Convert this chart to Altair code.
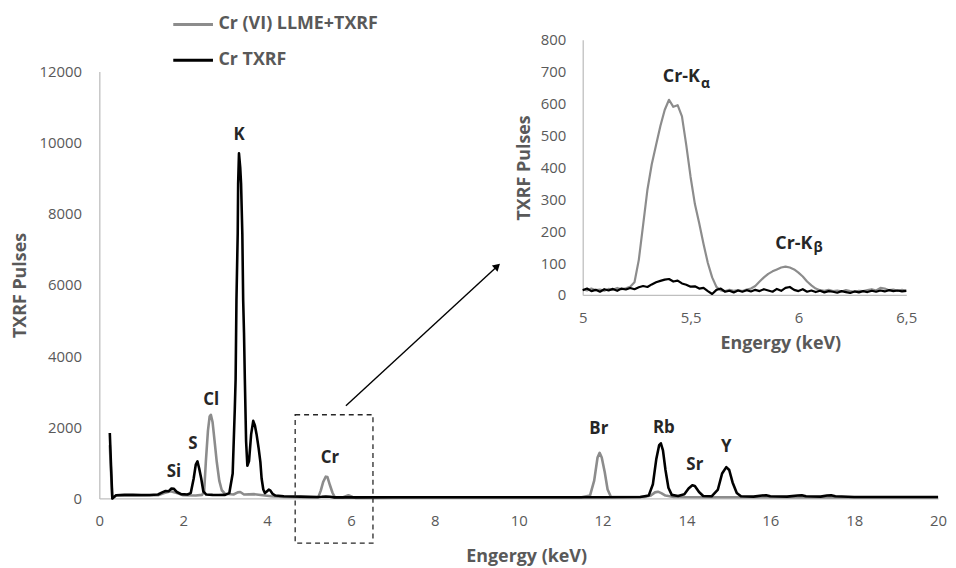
import altair as alt
import pandas as pd

FONT = "Open Sans"
AXIS_GRAY = "#595959"
LINE_GRAY = "#8c8c8c"
DOMAIN_GRAY = "#bfbfbf"
LABEL_COLOR = "#262626"
GRAY_NAME = "Cr (VI) LLME+TXRF"
BLACK_NAME = "Cr TXRF"

# ---------------- data ----------------
main_x_ticks = [0, 2, 4, 6, 8, 10, 12, 14, 16, 18, 20]
main_y_ticks = [0, 2000, 4000, 6000, 8000, 10000, 12000]
inset_x_ticks = [5, 5.5, 6, 6.5]
inset_y_ticks = [0, 100, 200, 300, 400, 500, 600, 700, 800]

black_main = [
    (0.25, 1840), (0.28, 900), (0.31, 0), (0.35, 40), (0.40, 90), (0.60, 100), (0.80, 100),
    (1.00, 95), (1.20, 95), (1.40, 110), (1.50, 170), (1.58, 210), (1.65, 200), (1.72, 280),
    (1.78, 270), (1.85, 180), (1.95, 120), (2.10, 110), (2.18, 150), (2.25, 560), (2.30, 950),
    (2.34, 1040), (2.38, 850), (2.43, 560), (2.48, 200), (2.55, 110), (2.70, 100), (2.85, 95),
    (3.00, 100), (3.10, 150), (3.18, 700), (3.23, 2500), (3.25, 3350), (3.27, 5580), (3.30, 7450),
    (3.31, 8850), (3.33, 9700), (3.36, 9300), (3.38, 8850), (3.41, 7450), (3.43, 5580), (3.45, 4660),
    (3.47, 3350), (3.50, 1600), (3.53, 920), (3.57, 1050), (3.62, 1800), (3.67, 2180), (3.71, 2050),
    (3.75, 1800), (3.80, 1400), (3.84, 1030), (3.87, 560), (3.91, 250), (3.95, 150), (4.00, 200),
    (4.04, 250), (4.08, 220), (4.13, 130), (4.20, 80), (4.40, 60), (4.80, 50), (5.20, 40),
    (5.30, 45), (5.40, 55), (5.50, 45), (5.60, 30), (6.00, 30), (7.00, 35), (8.00, 35), (9.00, 35),
    (10.00, 35), (11.00, 35), (12.00, 35), (12.90, 40), (13.10, 80), (13.20, 400), (13.28, 1100),
    (13.35, 1500), (13.39, 1550), (13.44, 1350), (13.50, 800), (13.57, 300), (13.65, 100),
    (13.80, 70), (13.95, 120), (14.05, 280), (14.14, 370), (14.20, 350), (14.30, 180), (14.40, 70),
    (14.60, 60), (14.75, 250), (14.85, 700), (14.95, 880), (15.02, 800), (15.10, 450), (15.20, 150),
    (15.30, 60), (15.60, 50), (15.80, 80), (15.90, 90), (16.00, 60), (16.40, 50), (16.65, 80),
    (16.75, 90), (16.85, 60), (17.20, 50), (17.35, 80), (17.45, 90), (17.55, 60), (18.00, 40),
    (19.00, 40), (20.00, 40),
]

gray_main = [
    (0.25, 1500), (0.28, 700), (0.31, 0), (0.35, 40), (0.40, 80), (1.00, 80), (1.40, 90),
    (1.55, 150), (1.70, 200), (1.85, 150), (2.00, 90), (2.30, 80), (2.45, 100), (2.50, 200),
    (2.54, 1030), (2.59, 1900), (2.63, 2300), (2.66, 2350), (2.70, 2150), (2.75, 1600), (2.80, 1030),
    (2.86, 500), (2.92, 230), (3.00, 130), (3.20, 110), (3.30, 170), (3.36, 180), (3.45, 110),
    (3.70, 120), (3.90, 90), (4.10, 60), (4.40, 40), (5.00, 30), (5.22, 30), (5.28, 220),
    (5.34, 470), (5.40, 612), (5.44, 600), (5.50, 370), (5.56, 160), (5.62, 25), (5.80, 28),
    (5.94, 89), (6.04, 42), (6.12, 15), (6.50, 15), (8.00, 30), (10.00, 30), (11.50, 30),
    (11.70, 80), (11.80, 500), (11.88, 1150), (11.93, 1280), (11.98, 1150), (12.05, 750),
    (12.12, 250), (12.20, 40), (13.00, 40), (13.15, 80), (13.25, 170), (13.32, 190), (13.40, 150),
    (13.50, 80), (13.70, 40), (14.50, 35), (16.00, 35), (18.00, 30), (20.00, 30),
]

inset_energy = [
    5.00, 5.02, 5.04, 5.06, 5.08, 5.10, 5.12, 5.14, 5.16, 5.18, 5.20, 5.22, 5.24, 5.26, 5.28,
    5.30, 5.32, 5.34, 5.36, 5.38, 5.40, 5.42, 5.44, 5.46, 5.48, 5.50, 5.52, 5.54, 5.56, 5.58,
    5.60, 5.62, 5.64, 5.66, 5.68, 5.70, 5.72, 5.74, 5.76, 5.78, 5.80, 5.82, 5.84, 5.86, 5.88,
    5.90, 5.92, 5.94, 5.96, 5.98, 6.00, 6.02, 6.04, 6.06, 6.08, 6.10, 6.12, 6.14, 6.16, 6.18,
    6.20, 6.22, 6.24, 6.26, 6.28, 6.30, 6.32, 6.34, 6.36, 6.38, 6.40, 6.42, 6.44, 6.46, 6.48,
    6.50,
]
inset_gray = [
    18, 14, 20, 15, 17, 13, 19, 16, 22, 18, 21, 26, 40, 110, 220,
    330, 410, 470, 530, 580, 612, 590, 595, 560, 470, 370, 285, 225, 160, 100,
    55, 25, 14, 12, 16, 13, 15, 12, 17, 20, 28, 42, 55, 66, 74,
    80, 86, 89, 86, 80, 70, 58, 42, 30, 20, 15, 13, 16, 12, 14,
    11, 15, 12, 10, 13, 12, 15, 18, 14, 22, 20, 15, 17, 13, 16,
    14,
]
inset_black = [
    15, 20, 12, 16, 10, 18, 14, 19, 13, 20, 17, 22, 18, 24, 28,
    25, 33, 40, 44, 48, 50, 42, 45, 36, 32, 26, 27, 20, 22, 12,
    3, 16, 20, 10, 13, 8, 14, 10, 15, 11, 16, 12, 18, 14, 10,
    19, 13, 22, 25, 16, 12, 18, 10, 14, 9, 13, 8, 12, 10, 7,
    12, 9, 6, 11, 8, 12, 9, 13, 10, 14, 11, 15, 12, 14, 11,
    13,
]

peak_labels = ["Si", "S", "Cl", "K", "Cr", "Br", "Rb", "Sr", "Y"]
peak_label_x = [1.78, 2.23, 2.67, 3.33, 5.50, 11.91, 13.46, 14.20, 14.95]
peak_label_y = [753, 1516, 2772, 10214, 1135, 1953, 1981, 949, 1443]

zoom_box_x = [4.67, 6.525]
zoom_box_y = [2353, -1256]
arrow_x = [5.88, 9.49]
arrow_y = [2604, 6530]
arrow_angle = 47

inset_label_text = ["Cr-K", "Cr-K"]
inset_label_x = [5.543, 6.065]
inset_label_y = [683, 159]
inset_sub_text = ["\u03b1", "\u03b2"]
inset_sub_x = [5.548, 6.070]
inset_sub_y = [660, 146]

# ---------------- frames ----------------
df_black = pd.DataFrame(black_main, columns=["x", "y"]).assign(series=BLACK_NAME)
df_gray = pd.DataFrame(gray_main, columns=["x", "y"]).assign(series=GRAY_NAME)
df_in_gray = pd.DataFrame({"x": inset_energy, "y": inset_gray, "series": GRAY_NAME})
df_in_black = pd.DataFrame({"x": inset_energy, "y": inset_black, "series": BLACK_NAME})
df_peaks = pd.DataFrame({"x": peak_label_x, "y": peak_label_y, "t": peak_labels})
df_box = pd.DataFrame({"x": [zoom_box_x[0]], "x2": [zoom_box_x[1]],
                       "y": [zoom_box_y[0]], "y2": [zoom_box_y[1]]})
df_arrow = pd.DataFrame({"x": [arrow_x[0]], "x2": [arrow_x[1]],
                         "y": [arrow_y[0]], "y2": [arrow_y[1]]})
df_head = pd.DataFrame({"x": [arrow_x[1]], "y": [arrow_y[1]]})
df_in_lab = pd.DataFrame({"x": inset_label_x, "y": inset_label_y, "t": inset_label_text})
df_in_sub = pd.DataFrame({"x": inset_sub_x, "y": inset_sub_y, "t": inset_sub_text})

# ---------------- scales / axes ----------------
common = dict(grid=False, ticks=False, tickSize=0, domainColor=DOMAIN_GRAY, domainWidth=1.3,
              labelFont=FONT, labelFontSize=15, labelColor=AXIS_GRAY,
              titleFont=FONT, titleFontSize=18, titleFontWeight="bold", titleColor=AXIS_GRAY)

sx_main = alt.Scale(domain=[0, 20], nice=False, zero=False)
sy_main = alt.Scale(domain=[0, 12000], range=[490, 60], nice=False, zero=False)
sx_in = alt.Scale(domain=[5, 6.5], range=[487, 813], nice=False, zero=False)
sy_in = alt.Scale(domain=[0, 800], range=[285, 28], nice=False, zero=False)

ax_main_x = alt.Axis(values=main_x_ticks, title="Engergy (keV)", orient="bottom",
                     labelPadding=15, titlePadding=20, titleX=430, labelFlush=False, **common)
ax_main_y = alt.Axis(values=main_y_ticks, format="d", title="TXRF Pulses", orient="left",
                     labelPadding=18, titlePadding=9, **common)
ax_in_x = alt.Axis(values=inset_x_ticks, title="Engergy (keV)", orient="bottom", offset=-205,
                   labelExpr="replace(toString(datum.value), '.', ',')",
                   labelPadding=16, titlePadding=9, titleX=686, labelFlush=False, **common)
ax_in_y = alt.Axis(values=inset_y_ticks, format="d", title="TXRF Pulses", orient="left",
                   offset=-487, labelPadding=17, titlePadding=7, **common)


def XM(f="x"):
    return alt.X(f"{f}:Q", scale=sx_main, axis=ax_main_x)


def YM(f="y"):
    return alt.Y(f"{f}:Q", scale=sy_main, axis=ax_main_y)


def XI(f="x"):
    return alt.X(f"{f}:Q", scale=sx_in, axis=ax_in_x)


def YI(f="y"):
    return alt.Y(f"{f}:Q", scale=sy_in, axis=ax_in_y)


COLOR = alt.Color(
    "series:N",
    scale=alt.Scale(domain=[GRAY_NAME, BLACK_NAME], range=[LINE_GRAY, "#000000"]),
    legend=alt.Legend(title=None, orient="none", legendX=73, legendY=-9, direction="vertical",
                      symbolType="stroke", symbolSize=1600, symbolStrokeWidth=3,
                      labelFont=FONT, labelFontSize=18, labelFontWeight="bold",
                      labelColor=AXIS_GRAY, labelOffset=4, labelLimit=400,
                      rowPadding=5, padding=0),
)

# ---------------- main chart layers ----------------
gray_line = alt.Chart(df_gray).mark_line(strokeWidth=2.6, strokeJoin="round").encode(
    x=XM(), y=YM(), color=COLOR)
black_line = alt.Chart(df_black).mark_line(strokeWidth=2.6, strokeJoin="round").encode(
    x=XM(), y=YM(), color=COLOR)
box = alt.Chart(df_box).mark_rect(filled=False, stroke="#262626", strokeWidth=1.3,
                                  strokeDash=[5, 4]).encode(
    x=XM(), x2=alt.X2("x2"), y=YM(), y2=alt.Y2("y2"))
arrow_line = alt.Chart(df_arrow).mark_rule(color="#000000", strokeWidth=1.4).encode(
    x=XM(), x2=alt.X2("x2"), y=YM(), y2=alt.Y2("y2"))
arrow_head = alt.Chart(df_head).mark_point(shape="triangle-up", filled=True, size=70,
                                           angle=arrow_angle, color="#000000", opacity=1).encode(
    x=XM(), y=YM())
peak_text = alt.Chart(df_peaks).mark_text(font=FONT, fontSize=17, fontWeight="bold",
                                          color=LABEL_COLOR, baseline="middle").encode(
    x=XM(), y=YM(), text="t:N")

main_group = alt.layer(gray_line, black_line, box, arrow_line, arrow_head, peak_text)

# ---------------- inset layers ----------------
in_gray = alt.Chart(df_in_gray).mark_line(strokeWidth=2.2, strokeJoin="round").encode(
    x=XI(), y=YI(), color=COLOR)
in_black = alt.Chart(df_in_black).mark_line(strokeWidth=2.2, strokeJoin="round").encode(
    x=XI(), y=YI(), color=COLOR)
in_lab = alt.Chart(df_in_lab).mark_text(font=FONT, fontSize=18, fontWeight="bold",
                                        color=LABEL_COLOR, align="right", baseline="middle").encode(
    x=XI(), y=YI(), text="t:N")
in_sub = alt.Chart(df_in_sub).mark_text(font=FONT, fontSize=14, fontWeight="bold",
                                        color=LABEL_COLOR, align="left", baseline="middle").encode(
    x=XI(), y=YI(), text="t:N")

inset_group = alt.layer(in_gray, in_black, in_lab, in_sub)

chart = (
    alt.layer(main_group, inset_group)
    .resolve_scale(x="independent", y="independent")
    .properties(width=845, height=490,
                padding={"left": 92, "top": 2, "right": 10, "bottom": 66},
                autosize=alt.AutoSizeParams(type="none"))
    .configure_view(stroke=None)
)

chart.save("out.html", embed_options={"renderer": "svg", "actions": False})
